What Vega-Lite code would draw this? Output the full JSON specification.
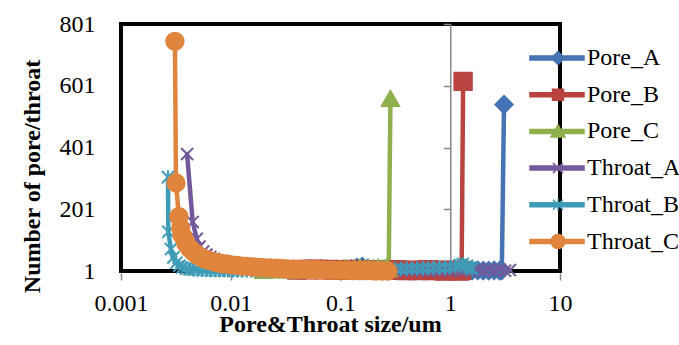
{
  "$schema": "https://vega.github.io/schema/vega-lite/v6.json",
  "autosize": {"type": "none"},
  "width": 439,
  "height": 247,
  "padding": {"left": 121, "top": 24, "right": 119, "bottom": 74},
  "background": "white",
  "config": {
    "view": {"stroke": "#000000", "strokeWidth": 4},
    "font": "Liberation Serif, Times New Roman, serif",
    "axis": {"labelFont": "Liberation Serif, Times New Roman, serif", "titleFont": "Liberation Serif, Times New Roman, serif", "labelColor": "#000000", "titleColor": "#000000", "grid": false},
    "legend": {"labelFont": "Liberation Serif, Times New Roman, serif", "labelColor": "#000000"}
  },
  "datasets": {
    "pts": [
      {"s":"Pore_A","x":0.1,"y":2},{"s":"Pore_A","x":0.112,"y":4},{"s":"Pore_A","x":0.126,"y":7},{"s":"Pore_A","x":0.141,"y":12},{"s":"Pore_A","x":0.158,"y":15},{"s":"Pore_A","x":0.178,"y":10},{"s":"Pore_A","x":0.2,"y":7},{"s":"Pore_A","x":0.224,"y":5},{"s":"Pore_A","x":0.251,"y":6},{"s":"Pore_A","x":0.282,"y":4},{"s":"Pore_A","x":0.316,"y":5},{"s":"Pore_A","x":0.355,"y":3},{"s":"Pore_A","x":0.398,"y":4},{"s":"Pore_A","x":0.447,"y":3},{"s":"Pore_A","x":0.501,"y":3},{"s":"Pore_A","x":0.562,"y":2},{"s":"Pore_A","x":0.631,"y":3},{"s":"Pore_A","x":0.708,"y":2},{"s":"Pore_A","x":0.794,"y":2},{"s":"Pore_A","x":0.891,"y":3},{"s":"Pore_A","x":1.0,"y":2},{"s":"Pore_A","x":1.12,"y":2},{"s":"Pore_A","x":1.26,"y":3},{"s":"Pore_A","x":1.41,"y":2},{"s":"Pore_A","x":1.58,"y":2},{"s":"Pore_A","x":1.78,"y":3},{"s":"Pore_A","x":2.0,"y":2},{"s":"Pore_A","x":2.24,"y":2},{"s":"Pore_A","x":2.51,"y":3},{"s":"Pore_A","x":2.82,"y":2},{"s":"Pore_A","x":2.95,"y":3},{"s":"Pore_A","x":3.09,"y":540},
      {"s":"Pore_B","x":0.04,"y":4},{"s":"Pore_B","x":0.045,"y":6},{"s":"Pore_B","x":0.05,"y":5},{"s":"Pore_B","x":0.056,"y":7},{"s":"Pore_B","x":0.063,"y":6},{"s":"Pore_B","x":0.071,"y":5},{"s":"Pore_B","x":0.079,"y":6},{"s":"Pore_B","x":0.089,"y":4},{"s":"Pore_B","x":0.1,"y":5},{"s":"Pore_B","x":0.112,"y":4},{"s":"Pore_B","x":0.126,"y":6},{"s":"Pore_B","x":0.141,"y":5},{"s":"Pore_B","x":0.158,"y":3},{"s":"Pore_B","x":0.178,"y":4},{"s":"Pore_B","x":0.2,"y":5},{"s":"Pore_B","x":0.224,"y":3},{"s":"Pore_B","x":0.251,"y":4},{"s":"Pore_B","x":0.282,"y":3},{"s":"Pore_B","x":0.316,"y":5},{"s":"Pore_B","x":0.355,"y":3},{"s":"Pore_B","x":0.398,"y":2},{"s":"Pore_B","x":0.447,"y":4},{"s":"Pore_B","x":0.501,"y":2},{"s":"Pore_B","x":0.562,"y":3},{"s":"Pore_B","x":0.631,"y":5},{"s":"Pore_B","x":0.708,"y":2},{"s":"Pore_B","x":0.794,"y":3},{"s":"Pore_B","x":0.891,"y":1},{"s":"Pore_B","x":1.0,"y":4},{"s":"Pore_B","x":1.12,"y":2},{"s":"Pore_B","x":1.22,"y":1},{"s":"Pore_B","x":1.27,"y":3},{"s":"Pore_B","x":1.31,"y":615},
      {"s":"Pore_C","x":0.02,"y":3},{"s":"Pore_C","x":0.023,"y":5},{"s":"Pore_C","x":0.026,"y":4},{"s":"Pore_C","x":0.029,"y":6},{"s":"Pore_C","x":0.033,"y":5},{"s":"Pore_C","x":0.037,"y":4},{"s":"Pore_C","x":0.042,"y":6},{"s":"Pore_C","x":0.048,"y":5},{"s":"Pore_C","x":0.055,"y":7},{"s":"Pore_C","x":0.062,"y":5},{"s":"Pore_C","x":0.07,"y":6},{"s":"Pore_C","x":0.08,"y":4},{"s":"Pore_C","x":0.09,"y":6},{"s":"Pore_C","x":0.1,"y":8},{"s":"Pore_C","x":0.11,"y":10},{"s":"Pore_C","x":0.12,"y":7},{"s":"Pore_C","x":0.135,"y":9},{"s":"Pore_C","x":0.15,"y":12},{"s":"Pore_C","x":0.165,"y":8},{"s":"Pore_C","x":0.18,"y":11},{"s":"Pore_C","x":0.2,"y":9},{"s":"Pore_C","x":0.22,"y":13},{"s":"Pore_C","x":0.24,"y":10},{"s":"Pore_C","x":0.26,"y":12},{"s":"Pore_C","x":0.275,"y":8},{"s":"Pore_C","x":0.285,"y":560},
      {"s":"Throat_A","x":0.004,"y":380},{"s":"Throat_A","x":0.0045,"y":160},{"s":"Throat_A","x":0.0049,"y":105},{"s":"Throat_A","x":0.0052,"y":80},{"s":"Throat_A","x":0.0056,"y":64},{"s":"Throat_A","x":0.006,"y":54},{"s":"Throat_A","x":0.0065,"y":46},{"s":"Throat_A","x":0.007,"y":40},{"s":"Throat_A","x":0.0076,"y":36},{"s":"Throat_A","x":0.0083,"y":33},{"s":"Throat_A","x":0.009,"y":30},{"s":"Throat_A","x":0.0098,"y":28},{"s":"Throat_A","x":0.0107,"y":26},{"s":"Throat_A","x":0.0117,"y":25},{"s":"Throat_A","x":0.0128,"y":24},{"s":"Throat_A","x":0.014,"y":23},{"s":"Throat_A","x":0.0155,"y":22},{"s":"Throat_A","x":0.017,"y":21},{"s":"Throat_A","x":0.019,"y":20},{"s":"Throat_A","x":0.021,"y":19},{"s":"Throat_A","x":0.023,"y":18},{"s":"Throat_A","x":0.026,"y":17},{"s":"Throat_A","x":0.029,"y":16},{"s":"Throat_A","x":0.032,"y":15},{"s":"Throat_A","x":0.036,"y":14},{"s":"Throat_A","x":0.04,"y":13},{"s":"Throat_A","x":0.045,"y":12},{"s":"Throat_A","x":0.05,"y":11},{"s":"Throat_A","x":0.056,"y":10},{"s":"Throat_A","x":0.063,"y":9},{"s":"Throat_A","x":0.071,"y":9},{"s":"Throat_A","x":0.079,"y":8},{"s":"Throat_A","x":0.089,"y":7},{"s":"Throat_A","x":0.1,"y":7},{"s":"Throat_A","x":0.112,"y":6},{"s":"Throat_A","x":0.126,"y":6},{"s":"Throat_A","x":0.141,"y":5},{"s":"Throat_A","x":0.158,"y":5},{"s":"Throat_A","x":0.178,"y":5},{"s":"Throat_A","x":0.2,"y":4},{"s":"Throat_A","x":0.224,"y":4},{"s":"Throat_A","x":0.251,"y":4},{"s":"Throat_A","x":0.282,"y":3},{"s":"Throat_A","x":0.316,"y":3},{"s":"Throat_A","x":0.355,"y":5},{"s":"Throat_A","x":0.398,"y":4},{"s":"Throat_A","x":0.447,"y":3},{"s":"Throat_A","x":0.501,"y":6},{"s":"Throat_A","x":0.562,"y":3},{"s":"Throat_A","x":0.631,"y":2},{"s":"Throat_A","x":0.708,"y":5},{"s":"Throat_A","x":0.794,"y":2},{"s":"Throat_A","x":0.891,"y":4},{"s":"Throat_A","x":1.0,"y":2},{"s":"Throat_A","x":1.12,"y":6},{"s":"Throat_A","x":1.26,"y":2},{"s":"Throat_A","x":1.41,"y":5},{"s":"Throat_A","x":1.58,"y":2},{"s":"Throat_A","x":1.78,"y":6},{"s":"Throat_A","x":2.0,"y":2},{"s":"Throat_A","x":2.24,"y":5},{"s":"Throat_A","x":2.51,"y":2},{"s":"Throat_A","x":2.82,"y":6},{"s":"Throat_A","x":3.16,"y":2},{"s":"Throat_A","x":3.5,"y":4},
      {"s":"Throat_B","x":0.00268,"y":305},{"s":"Throat_B","x":0.0027,"y":128},{"s":"Throat_B","x":0.00285,"y":72},{"s":"Throat_B","x":0.003,"y":45},{"s":"Throat_B","x":0.0032,"y":28},{"s":"Throat_B","x":0.0034,"y":18},{"s":"Throat_B","x":0.0036,"y":12},{"s":"Throat_B","x":0.0039,"y":9},{"s":"Throat_B","x":0.0042,"y":7},{"s":"Throat_B","x":0.0046,"y":6},{"s":"Throat_B","x":0.005,"y":5},{"s":"Throat_B","x":0.0055,"y":4},{"s":"Throat_B","x":0.006,"y":4},{"s":"Throat_B","x":0.0066,"y":3},{"s":"Throat_B","x":0.0072,"y":3},{"s":"Throat_B","x":0.0079,"y":3},{"s":"Throat_B","x":0.0087,"y":2},{"s":"Throat_B","x":0.0095,"y":3},{"s":"Throat_B","x":0.0105,"y":2},{"s":"Throat_B","x":0.0115,"y":2},{"s":"Throat_B","x":0.0126,"y":3},{"s":"Throat_B","x":0.014,"y":2},{"s":"Throat_B","x":0.0155,"y":2},{"s":"Throat_B","x":0.017,"y":3},{"s":"Throat_B","x":0.019,"y":2},{"s":"Throat_B","x":0.021,"y":2},{"s":"Throat_B","x":0.023,"y":3},{"s":"Throat_B","x":0.026,"y":2},{"s":"Throat_B","x":0.029,"y":2},{"s":"Throat_B","x":0.032,"y":3},{"s":"Throat_B","x":0.036,"y":2},{"s":"Throat_B","x":0.04,"y":3},{"s":"Throat_B","x":0.045,"y":2},{"s":"Throat_B","x":0.05,"y":3},{"s":"Throat_B","x":0.056,"y":2},{"s":"Throat_B","x":0.063,"y":3},{"s":"Throat_B","x":0.071,"y":2},{"s":"Throat_B","x":0.079,"y":3},{"s":"Throat_B","x":0.089,"y":2},{"s":"Throat_B","x":0.1,"y":4},{"s":"Throat_B","x":0.112,"y":3},{"s":"Throat_B","x":0.126,"y":5},{"s":"Throat_B","x":0.141,"y":4},{"s":"Throat_B","x":0.158,"y":6},{"s":"Throat_B","x":0.178,"y":5},{"s":"Throat_B","x":0.2,"y":7},{"s":"Throat_B","x":0.224,"y":5},{"s":"Throat_B","x":0.251,"y":8},{"s":"Throat_B","x":0.282,"y":6},{"s":"Throat_B","x":0.316,"y":9},{"s":"Throat_B","x":0.355,"y":7},{"s":"Throat_B","x":0.398,"y":10},{"s":"Throat_B","x":0.447,"y":8},{"s":"Throat_B","x":0.501,"y":11},{"s":"Throat_B","x":0.562,"y":9},{"s":"Throat_B","x":0.631,"y":12},{"s":"Throat_B","x":0.708,"y":10},{"s":"Throat_B","x":0.794,"y":13},{"s":"Throat_B","x":0.891,"y":11},{"s":"Throat_B","x":1.0,"y":14},{"s":"Throat_B","x":1.12,"y":16},{"s":"Throat_B","x":1.22,"y":20},{"s":"Throat_B","x":1.3,"y":24},{"s":"Throat_B","x":1.42,"y":18},{"s":"Throat_B","x":1.5,"y":12},{"s":"Throat_B","x":1.58,"y":8},
      {"s":"Throat_C","x":0.0031,"y":745},{"s":"Throat_C","x":0.00317,"y":286},{"s":"Throat_C","x":0.00337,"y":177},{"s":"Throat_C","x":0.0035,"y":140},{"s":"Throat_C","x":0.0036,"y":118},{"s":"Throat_C","x":0.0038,"y":102},{"s":"Throat_C","x":0.0039,"y":90},{"s":"Throat_C","x":0.0041,"y":80},{"s":"Throat_C","x":0.0043,"y":72},{"s":"Throat_C","x":0.0046,"y":62},{"s":"Throat_C","x":0.0049,"y":54},{"s":"Throat_C","x":0.0053,"y":47},{"s":"Throat_C","x":0.0057,"y":41},{"s":"Throat_C","x":0.0062,"y":36},{"s":"Throat_C","x":0.0068,"y":32},{"s":"Throat_C","x":0.0075,"y":28},{"s":"Throat_C","x":0.0083,"y":25},{"s":"Throat_C","x":0.0092,"y":23},{"s":"Throat_C","x":0.0102,"y":21},{"s":"Throat_C","x":0.0114,"y":19},{"s":"Throat_C","x":0.0127,"y":17},{"s":"Throat_C","x":0.0142,"y":16},{"s":"Throat_C","x":0.016,"y":14},{"s":"Throat_C","x":0.018,"y":13},{"s":"Throat_C","x":0.02,"y":12},{"s":"Throat_C","x":0.023,"y":11},{"s":"Throat_C","x":0.026,"y":10},{"s":"Throat_C","x":0.029,"y":9},{"s":"Throat_C","x":0.033,"y":8},{"s":"Throat_C","x":0.037,"y":7},{"s":"Throat_C","x":0.042,"y":6},{"s":"Throat_C","x":0.048,"y":6},{"s":"Throat_C","x":0.055,"y":5},{"s":"Throat_C","x":0.062,"y":5},{"s":"Throat_C","x":0.07,"y":4},{"s":"Throat_C","x":0.08,"y":4},{"s":"Throat_C","x":0.09,"y":3},{"s":"Throat_C","x":0.1,"y":3},{"s":"Throat_C","x":0.115,"y":3},{"s":"Throat_C","x":0.13,"y":2},{"s":"Throat_C","x":0.15,"y":2},{"s":"Throat_C","x":0.17,"y":2},{"s":"Throat_C","x":0.19,"y":2},{"s":"Throat_C","x":0.21,"y":1},{"s":"Throat_C","x":0.24,"y":1},{"s":"Throat_C","x":0.27,"y":1}
    ]
  },
  "data": {"name": "pts"},
  "layer": [
    {
      "mark": {"type": "line", "strokeWidth": 4.5, "strokeCap": "round", "strokeJoin": "round"},
      "encoding": {
        "x": {
          "field": "x", "type": "quantitative",
          "scale": {"type": "log", "domain": [0.001, 10], "nice": false},
          "axis": {
            "values": [0.001, 0.01, 0.1, 1, 10], "format": "~g",
            "domain": false, "ticks": true, "tickColor": "#888888", "tickWidth": 1.5, "tickSize": 7, "offset": 2,
            "labelFont": "Liberation Serif, Times New Roman, serif",
            "labelFontSize": 24, "labelBaseline": "alphabetic", "labelPadding": 30, "labelFlush": false, "labelOverlap": false,
            "title": "Pore&Throat size/um", "titleFont": "Liberation Serif, Times New Roman, serif", "titleFontSize": 24, "titleFontWeight": "bold",
            "titleX": 209, "titleY": 58, "titleAnchor": "middle", "titleAlign": "center", "titleBaseline": "alphabetic"
          }
        },
        "y": {
          "field": "y", "type": "quantitative",
          "scale": {"domain": [1, 801], "nice": false, "zero": false},
          "axis": {
            "orient": "left", "values": [1, 201, 401, 601, 801],
            "domain": false, "ticks": false, "tickSize": 0,
            "labelFont": "Liberation Serif, Times New Roman, serif",
            "labelFontSize": 24, "labelPadding": 26, "labelBaseline": "middle",
            "title": "Number of pore/throat", "titleFont": "Liberation Serif, Times New Roman, serif", "titleFontSize": 24, "titleFontWeight": "bold",
            "titleAngle": 270, "titleX": -89, "titleY": 152, "titleAlign": "center", "titleBaseline": "middle"
          }
        },
        "color": {
          "field": "s", "type": "nominal",
          "scale": {"domain": ["Pore_A", "Pore_B", "Pore_C", "Throat_A", "Throat_B", "Throat_C"], "range": ["#4573B3", "#B8433F", "#8FB04C", "#73599B", "#3F9CB8", "#E0853D"]},
          "legend": null
        }
      }
    },
    {
      "mark": {"type": "point", "filled": true, "size": 300, "strokeWidth": 2, "opacity": 1},
      "encoding": {
        "x": {"field": "x", "type": "quantitative"},
        "y": {
          "field": "y", "type": "quantitative",
          "axis": {
            "orient": "left", "offset": -329.25, "values": [1, 201, 401, 601, 801],
            "labels": false, "title": null,
            "domain": true, "domainColor": "#888888", "domainWidth": 1.5,
            "ticks": true, "tickColor": "#888888", "tickWidth": 1.5, "tickSize": 7
          }
        },
        "fill": {
          "field": "s", "type": "nominal",
          "scale": {"domain": ["Pore_A", "Pore_B", "Pore_C", "Throat_A", "Throat_B", "Throat_C"], "range": ["#4573B3", "#B8433F", "#8FB04C", "#73599B", "#3F9CB8", "#E0853D"]},
          "legend": null
        },
        "stroke": {
          "field": "s", "type": "nominal",
          "scale": {"domain": ["Pore_A", "Pore_B", "Pore_C", "Throat_A", "Throat_B", "Throat_C"], "range": ["#4573B3", "#B8433F", "#8FB04C", "#73599B", "#3F9CB8", "#E0853D"]},
          "legend": null
        },
        "shape": {
          "field": "s", "type": "nominal",
          "scale": {"domain": ["Pore_A", "Pore_B", "Pore_C", "Throat_A", "Throat_B", "Throat_C"], "range": ["diamond", "square", "triangle-up", "M-0.7,-0.7L0.7,0.7M-0.7,0.7L0.7,-0.7", "M-0.7,-0.7L0.7,0.7M-0.7,0.7L0.7,-0.7M0,-0.8V0.8", "circle"]},
          "legend": null
        }
      }
    },
    {
      "transform": [{"filter": "datum.y < 0"}],
      "mark": {"type": "point", "filled": true, "strokeWidth": 1.5, "opacity": 1},
      "encoding": {
        "fill": {
          "field": "s", "type": "nominal",
          "scale": {"domain": ["Pore_A", "Pore_B", "Pore_C", "Throat_A", "Throat_B", "Throat_C"], "range": ["#4573B3", "#B8433F", "#8FB04C", "#73599B", "#3F9CB8", "#E0853D"]},
          "legend": {"title": null, "orient": "none", "legendX": 425, "legendY": 22, "padding": 0, "symbolSize": 400, "symbolStrokeWidth": 1.5, "symbolOpacity": 1, "labelFontSize": 24, "labelOffset": 17, "rowPadding": 12.7, "labelFont": "Liberation Serif, Times New Roman, serif", "labelColor": "#000000"}
        },
        "stroke": {
          "field": "s", "type": "nominal",
          "scale": {"domain": ["Pore_A", "Pore_B", "Pore_C", "Throat_A", "Throat_B", "Throat_C"], "range": ["#4573B3", "#B8433F", "#8FB04C", "#73599B", "#3F9CB8", "#E0853D"]},
          "legend": {"title": null, "orient": "none", "legendX": 425, "legendY": 22, "padding": 0, "symbolSize": 400, "symbolStrokeWidth": 1.5, "symbolOpacity": 1, "labelFontSize": 24, "labelOffset": 17, "rowPadding": 12.7, "labelFont": "Liberation Serif, Times New Roman, serif", "labelColor": "#000000"}
        },
        "shape": {
          "field": "s", "type": "nominal",
          "scale": {"domain": ["Pore_A", "Pore_B", "Pore_C", "Throat_A", "Throat_B", "Throat_C"], "range": [
            "M-2.8,-0.2H2.6V0.2H-2.8Z M0,-0.65L0.65,0L0,0.65L-0.65,0Z",
            "M-2.8,-0.2H2.6V0.2H-2.8Z M-0.55,-0.55H0.55V0.55H-0.55Z",
            "M-2.8,-0.2H2.6V0.2H-2.8Z M0,-0.65L0.7,0.55H-0.7Z",
            "M-2.8,-0.2H2.6V0.2H-2.8Z M-0.5,-0.5L0.5,0.5M-0.5,0.5L0.5,-0.5",
            "M-2.8,-0.2H2.6V0.2H-2.8Z M-0.5,-0.5L0.5,0.5M-0.5,0.5L0.5,-0.5M0,-0.6V0.6",
            "M-2.8,-0.2H2.6V0.2H-2.8Z M-0.7,0A0.7,0.7 0 1,1 0.7,0A0.7,0.7 0 1,1 -0.7,0Z"
          ]},
          "legend": {"title": null, "orient": "none", "legendX": 425, "legendY": 22, "padding": 0, "symbolSize": 400, "symbolStrokeWidth": 1.5, "symbolOpacity": 1, "labelFontSize": 24, "labelOffset": 17, "rowPadding": 12.7, "labelFont": "Liberation Serif, Times New Roman, serif", "labelColor": "#000000"}
        }
      }
    }
  ],
  "resolve": {"scale": {"shape": "independent", "fill": "independent", "stroke": "independent"}, "axis": {"y": "independent"}}
}
